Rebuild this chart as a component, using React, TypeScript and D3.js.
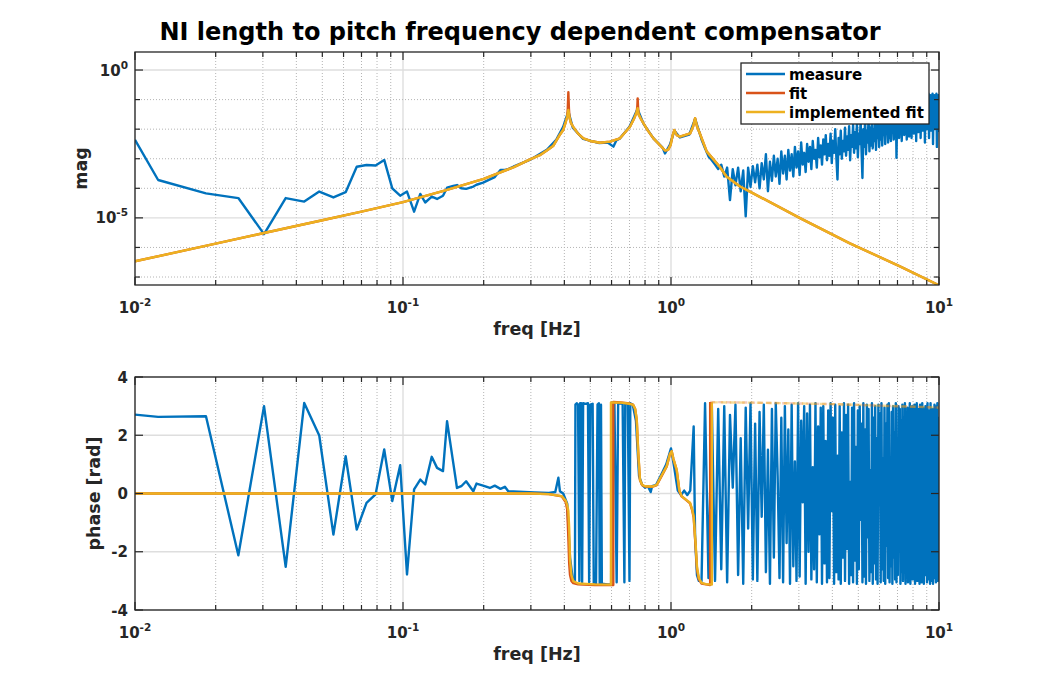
import * as d3 from "d3"

// ---------- data ----------
const freqLimits = [0.01, 10]
const magLimits = [5.37e-8, 4.07]
const phaseLimits = [-4, 4]
const phaseTicks = [-4, -2, 0, 2, 4]
const magTickExps = [-7, -6, -5, -4, -3, -2, -1, 0]
const magLabelExps = [-5, 0]
const freqTickExps = [-2, -1, 0, 1]

// measurement, sparse low-frequency bins (mag stored as log10)
const lowFreq = [0.01, 0.0122, 0.0184, 0.0243, 0.0303, 0.0365, 0.0428, 0.0487, 0.055, 0.0611, 0.0672, 0.0731, 0.079, 0.0851, 0.0912, 0.0976, 0.1035, 0.11, 0.116, 0.121, 0.128, 0.134, 0.141, 0.146, 0.154, 0.159, 0.165, 0.172, 0.183, 0.188, 0.199, 0.211, 0.22, 0.231, 0.24, 0.247]
const lowMag = [-2.36, -3.72, -4.17, -4.33, -5.55, -4.33, -4.45, -4.11, -4.31, -4.13, -3.27, -3.21, -3.23, -3.04, -4.0, -4.25, -4.11, -4.79, -4.19, -4.48, -4.28, -4.36, -4.25, -3.98, -3.92, -3.89, -4.0, -4.02, -3.94, -3.88, -3.81, -3.7, -3.62, -3.38, -3.38, -3.35]
const lowPhase = [2.71, 2.63, 2.65, -2.12, 3.0, -2.52, 3.11, 1.99, -1.41, 1.28, -1.24, -0.32, -0.03, 1.51, -0.26, 0.97, -2.78, 0.14, 0.48, 0.31, 1.26, 0.88, 0.77, 2.48, 1.05, 0.19, 0.25, 0.42, 0.08, 0.34, 0.27, 0.19, 0.27, 0.16, 0.23, 0.08]

// measurement around the resonances
const midMagFreq = [0.258, 0.297, 0.344, 0.373, 0.396, 0.414, 0.43, 0.47, 0.54, 0.58, 0.61, 0.625, 0.645, 0.7, 0.75, 0.79, 0.86, 0.93, 0.95, 0.99, 1.03, 1.08, 1.17, 1.23, 1.28]
const midMag = [-3.27, -3.04, -2.7, -2.36, -1.92, -1.4, -1.95, -2.33, -2.47, -2.45, -2.59, -2.38, -2.31, -1.92, -1.32, -1.82, -2.31, -2.62, -2.82, -2.53, -2.05, -2.28, -2.18, -1.65, -2.14]
const midPhaseFreq = [0.27, 0.31, 0.35, 0.37, 0.38, 0.385, 0.396, 0.41, 0.42, 0.43, 0.438, 0.44, 0.445, 0.45, 0.455, 0.458, 0.462, 0.466, 0.47, 0.48, 0.49, 0.495, 0.5, 0.51, 0.515, 0.525, 0.532, 0.538, 0.542, 0.548, 0.552, 0.58, 0.598, 0.6, 0.615, 0.627, 0.635, 0.66, 0.67, 0.675, 0.69, 0.7, 0.705, 0.72, 0.74, 0.76, 0.78, 0.8, 0.82, 0.84, 0.85, 0.88, 0.92, 0.96, 1.0, 1.03, 1.06, 1.09, 1.12, 1.15, 1.18, 1.215, 1.23, 1.25, 1.27]
const midPhase = [0.06, 0.04, 0.02, 0.05, 0.54, 0.08, 0.0, -0.35, -2.2, -2.95, -3.05, 3.05, 3.1, 3.05, -3.0, 3.1, 3.1, -3.05, 3.1, 3.08, 3.1, -3.05, 3.05, 3.08, -3.1, -3.12, 3.05, 3.1, -3.1, 3.05, -3.1, -3.12, -3.12, 3.12, 3.1, -3.05, 3.1, 3.08, -3.05, 3.1, 3.08, -3.0, 3.1, 3.05, 2.5, 0.6, 0.3, 0.2, 0.25, 0.05, 0.25, 0.3, 0.65, 1.0, 1.55, 0.85, 0.1, -0.05, 0.1, -0.05, 0.1, 2.3, -1.5, -2.8, -3.0]

// measurement, dense bins above 1.3 Hz (evenly spaced in Hz)
const noiseStartHz = 1.3
const noiseStepHz = 0.04
const noiseMag = [
  -2.35, -2.65, -2.92, -3.05, -3.2, -3.35, -3.2, -3.6, -3.3, -4.4,
  -3.35, -3.9, -3.3, -4.1, -3.4, -4.95, -3.3, -3.95, -3.25, -3.8,
  -3.2, -4.0, -3.15, -3.7, -2.85, -4.1, -3.1, -3.75, -2.9, -3.6,
  -3.0, -3.85, -2.75, -3.5, -2.9, -3.7, -2.7, -3.4, -2.85, -3.6,
  -2.6, -3.3, -2.75, -3.55, -2.45, -3.2, -2.8, -3.45, -2.5, -3.1,
  -2.6, -3.35, -2.4, -3.0, -2.7, -3.3, -2.3, -2.95, -2.55, -3.2,
  -2.35, -2.85, -2.2, -3.05, -2.5, -2.9, -2.15, -3.15, -2.4, -2.8,
  -2.0, -2.95, -3.7, -2.3, -2.85, -2.05, -3.0, -2.4, -2.75, -1.95,
  -2.9, -2.25, -2.7, -1.9, -3.05, -2.2, -2.6, -1.85, -2.8, -2.1,
  -2.65, -1.8, -2.95, -2.15, -2.5, -1.7, -2.7, -3.65, -2.0, -2.6,
  -1.65, -2.85, -2.05, -2.45, -1.6, -2.75, -1.95, -2.55, -1.55, -2.65,
  -2.0, -2.4, -1.5, -2.7, -1.85, -2.3, -1.45, -2.6, -1.9, -2.35,
  -1.4, -2.55, -1.75, -2.2, -1.35, -2.5, -1.8, -2.15, -1.3, -2.45,
  -1.7, -2.3, -1.25, -2.4, -1.65, -2.1, -1.2, -2.35, -1.6, -2.2,
  -1.15, -2.97, -1.55, -2.25, -1.1, -2.3, -1.5, -2.0, -1.05, -2.4,
  -1.45, -2.1, -1.0, -2.2, -1.5, -1.95, -1.05, -2.35, -1.4, -2.05,
  -0.95, -2.25, -1.45, -1.9, -1.0, -2.3, -1.35, -2.0, -0.95, -2.15,
  -1.4, -1.85, -0.9, -2.4, -1.3, -2.0, -0.95, -2.1, -1.35, -1.8,
  -0.9, -2.3, -1.3, -1.95, -0.85, -2.05, -1.4, -1.75, -0.9, -2.45,
  -1.25, -1.9, -0.85, -2.0, -1.35, -1.7, -0.8, -2.3, -1.2, -1.85,
  -0.85, -2.05, -1.3, -1.65, -0.8, -2.5, -1.25, -1.8, -0.85, -2.0,
  -1.3, -1.6, -0.8, -2.6, -1.2, -1.75, -0.85, -2.1,
]
const noisePhase = [
  -3.0, 3.1, -2.9, 3.05, -3.0, 2.9, -2.6, 3.0, -3.05, 2.7, 0.2, 3.05, -2.8, 1.9, -3.1, 2.95, -1.2, 3.1, -2.95, 2.4,
  -3.0, 2.8, -0.8, 3.05, -2.7, 1.5, -3.1, 2.9, -2.2, 3.1, 0.6, -2.9, 2.6, -3.05, 3.0, -1.7, 2.2, -3.1, 3.05, -2.5,
  1.1, -3.0, 3.1, -2.85, 2.5, -0.3, 3.0, -3.1, 2.75, -2.0, 3.05, -2.95, 0.9, -2.6, 3.1, -3.05, 2.3, -1.4, 2.95, -3.1,
  3.0, -2.4, 1.8, -3.05, 2.85, -2.9, 3.1, -0.6, 2.6, -3.1, 3.05, -2.7, 1.3, -2.95, 3.0, -3.1, 2.1, -2.2, 3.1, -3.0,
  2.7, -1.9, 3.05, -3.1, 0.4, -2.8, 2.95, -3.05, 3.1, -2.3, 1.6, -3.1, 2.85, -2.6, 3.0, -0.9, 2.4, -3.05, 3.1, -2.85,
  2.2, -3.1, 3.05, -1.5, 2.9, -3.0, 0.8, -2.7, 3.1, -3.1, 2.6, -2.4, 3.0, -2.95, 1.9, -3.1, 3.05, -0.2, 2.75, -3.05,
  3.1, -2.6, 1.2, -3.0, 2.95, -3.1, 2.4, -1.8, 3.05, -2.9, 3.1, -3.05, 0.5, -2.5, 2.8, -3.1, 3.0, -2.2, 2.1, -2.95,
  3.1, -3.05, 1.7, -2.8, 3.0, -1.1, 2.9, -3.1, 2.5, -2.7, 3.05, -3.0, 0.1, -2.4, 3.1, -3.1, 2.7, -1.6, 2.95, -3.05,
  2.3, -2.9, 3.1, -3.1, 1.4, -2.6, 3.0, -2.95, 2.8, -0.7, 3.05, -3.1, 2.2, -2.3, 3.1, -3.0, 1.0, -2.85, 2.9, -3.1,
  3.05, -1.9, 2.6, -3.05, 3.1, -2.5, 0.7, -3.1, 2.95, -2.8, 3.0, -1.3, 2.4, -3.05, 3.1, -2.95, 1.8, -2.2, 2.85, -3.1,
  3.1, -2.7, 1.5, -3.0, 2.9, -3.1, 2.7, -0.5, 3.05, -2.9, 3.0, -3.05, 2.2, -1.7, 3.1, -3.0, 2.6, -2.4,
]

// fitted models (mag stored as log10)
const fitFreq = [0.01, 0.02, 0.03, 0.05, 0.07, 0.1, 0.145, 0.2, 0.258, 0.298, 0.324, 0.344, 0.364, 0.386, 0.396, 0.405, 0.41, 0.412, 0.414, 0.416, 0.418, 0.423, 0.431, 0.45, 0.471, 0.5, 0.543, 0.592, 0.645, 0.703, 0.73, 0.745, 0.749, 0.751, 0.753, 0.757, 0.775, 0.789, 0.82, 0.86, 0.95, 0.975, 0.997, 1.015, 1.029, 1.05, 1.08, 1.18, 1.21, 1.23, 1.25, 1.28, 1.36, 1.52, 1.61, 1.81, 1.97, 3.03, 4.65, 7.15, 10]
const fitMag = [-6.47, -5.87, -5.52, -5.08, -4.79, -4.47, -4.06, -3.68, -3.29, -3.02, -2.88, -2.72, -2.56, -2.17, -2.03, -1.75, -1.58, -1.3, -0.75, -1.3, -1.6, -1.78, -1.92, -2.15, -2.31, -2.4, -2.46, -2.42, -2.31, -1.92, -1.62, -1.42, -1.2, -0.96, -1.2, -1.5, -1.68, -1.8, -2.05, -2.31, -2.72, -2.7, -2.53, -2.2, -2.03, -2.2, -2.25, -2.14, -1.9, -1.63, -1.9, -2.14, -2.76, -3.27, -3.6, -3.94, -4.11, -5.01, -5.86, -6.64, -7.28]
const implMag = [-6.47, -5.87, -5.52, -5.08, -4.79, -4.47, -4.06, -3.68, -3.29, -3.02, -2.88, -2.72, -2.56, -2.17, -2.03, -1.75, -1.58, -1.46, -1.35, -1.47, -1.6, -1.78, -1.92, -2.15, -2.31, -2.4, -2.46, -2.42, -2.31, -1.92, -1.62, -1.42, -1.33, -1.29, -1.36, -1.5, -1.68, -1.8, -2.05, -2.31, -2.72, -2.7, -2.53, -2.2, -2.03, -2.2, -2.25, -2.14, -1.9, -1.63, -1.9, -2.14, -2.76, -3.27, -3.6, -3.94, -4.11, -5.01, -5.86, -6.64, -7.28]

const fitPhaseFreq = [0.01, 0.1, 0.3, 0.35, 0.391, 0.405, 0.41, 0.414, 0.417, 0.42, 0.425, 0.432, 0.45, 0.52, 0.609, 0.609, 0.65, 0.7, 0.723, 0.735, 0.745, 0.755, 0.766, 0.78, 0.8, 0.85, 0.885, 0.92, 0.964, 0.99, 1.006, 1.02, 1.05, 1.075, 1.096, 1.14, 1.178, 1.2, 1.215, 1.235, 1.25, 1.27, 1.3, 1.35, 1.4, 1.4, 2.0, 4.0, 10]
const fitPhase = [0, 0, 0, -0.02, -0.1, -0.3, -0.55, -1.5, -2.4, -2.8, -3.0, -3.08, -3.12, -3.14, -3.14, 3.14, 3.13, 3.09, 3.04, 2.9, 2.52, 1.35, 0.46, 0.29, 0.24, 0.23, 0.29, 0.58, 0.93, 1.34, 1.45, 1.2, 0.8, 0.08, -0.1, -0.23, -0.34, -0.58, -0.82, -1.8, -2.6, -2.95, -3.09, -3.12, -3.14, 3.14, 3.12, 3.07, 2.95]
const implPhaseFreq = [0.01, 0.1, 0.3, 0.35, 0.391, 0.405, 0.41, 0.414, 0.417, 0.42, 0.425, 0.432, 0.45, 0.52, 0.597, 0.597, 0.65, 0.7, 0.723, 0.735, 0.745, 0.755, 0.766, 0.78, 0.8, 0.85, 0.885, 0.92, 0.964, 0.99, 1.006, 1.02, 1.05, 1.075, 1.096, 1.14, 1.178, 1.2, 1.215, 1.235, 1.25, 1.27, 1.3, 1.35, 1.42, 1.42, 2.0, 4.0, 10]
const implPhase = [0, 0, 0, -0.02, -0.09, -0.25, -0.4, -0.6, -1.2, -2.27, -2.8, -3.01, -3.09, -3.12, -3.13, 3.13, 3.12, 3.08, 3.04, 2.9, 2.54, 1.4, 0.48, 0.3, 0.25, 0.24, 0.3, 0.6, 0.94, 1.35, 1.45, 1.2, 0.82, 0.1, -0.09, -0.22, -0.32, -0.55, -0.78, -1.7, -2.5, -2.9, -3.07, -3.11, -3.13, 3.13, 3.12, 3.07, 2.95]

const legendLabels = ["measure", "fit", "implemented fit"]

// ---------- styling ----------
const W = 1039
const H = 687
const FONT = "'DejaVu Sans', sans-serif"
const AX = "#262626"
const BLUE = "#0072BD"
const RED = "#D95319"
const YELLOW = "#EDB120"
const GRID = "#dedede"
const MINOR = "#b4b4b4"
const LW = 2.4
const left = 135
const right = 939
const magBox = { top: 52, bottom: 285 }
const phBox = { top: 377, bottom: 610 }

type Pt = [number, number]
const pairs = (f: number[], v: number[]): Pt[] => f.map((d, i) => [d, v[i]] as Pt)

// split a wrapped phase trace at its last jump so the tail can be drawn faded
function splitAtLastWrap(pts: Pt[]) {
  let k = -1
  for (let i = 1; i < pts.length; i++) if (Math.abs(pts[i][1] - pts[i - 1][1]) > 5) k = i
  return k < 0 ? [pts, []] : [pts.slice(0, k + 1), pts.slice(k)]
}

function Sup({ base, exp, ...rest }: any) {
  return (
    <text {...rest}>
      {base}
      <tspan dy={-7} fontSize={10.5}>{exp}</tspan>
    </text>
  )
}

export default function App() {
  const x = d3.scaleLog().domain(freqLimits).range([left, right])
  const yMag = d3.scaleLog().domain(magLimits).range([magBox.bottom, magBox.top])
  const yPh = d3.scaleLinear().domain(phaseLimits).range([phBox.bottom, phBox.top])

  const noiseFreq = noiseMag.map((_, i) => noiseStartHz + i * noiseStepHz)
  const measMag = [...pairs(lowFreq, lowMag), ...pairs(midMagFreq, midMag), ...pairs(noiseFreq, noiseMag)]
  const measPh = [...pairs(lowFreq, lowPhase), ...pairs(midPhaseFreq, midPhase), ...pairs(noiseFreq, noisePhase)]

  const magLine = d3.line<Pt>().x((d) => x(d[0])).y((d) => yMag(Math.pow(10, d[1])))
  const phLine = d3.line<Pt>().x((d) => x(d[0])).y((d) => yPh(d[1]))

  const [fitPhA, fitPhB] = splitAtLastWrap(pairs(fitPhaseFreq, fitPhase))
  const [implPhA, implPhB] = splitAtLastWrap(pairs(implPhaseFreq, implPhase))

  const majorFreqs = freqTickExps.map((e) => Math.pow(10, e))
  const minorFreqs: number[] = []
  freqTickExps.slice(0, -1).forEach((e) => {
    for (let k = 2; k <= 9; k++) minorFreqs.push(k * Math.pow(10, e))
  })

  const lineStyle = { fill: "none", strokeWidth: LW, strokeLinejoin: "round" as const }

  const xFrame = (top: number, bottom: number) => (
    <g>
      {minorFreqs.map((f) => (
        <line key={"n" + f} x1={x(f)} x2={x(f)} y1={top} y2={bottom} stroke={MINOR} strokeWidth={1} strokeDasharray="1 2" />
      ))}
      {majorFreqs.map((f) => (
        <line key={"g" + f} x1={x(f)} x2={x(f)} y1={top} y2={bottom} stroke={GRID} strokeWidth={1.4} />
      ))}
    </g>
  )

  const xTicks = (top: number, bottom: number) => (
    <g stroke={AX} strokeWidth={1.2}>
      {minorFreqs.map((f) => (
        <g key={"t" + f}>
          <line x1={x(f)} x2={x(f)} y1={top} y2={top + 5} />
          <line x1={x(f)} x2={x(f)} y1={bottom} y2={bottom - 5} />
        </g>
      ))}
      {majorFreqs.map((f) => (
        <g key={"T" + f}>
          <line x1={x(f)} x2={x(f)} y1={top} y2={top + 8} />
          <line x1={x(f)} x2={x(f)} y1={bottom} y2={bottom - 8} />
        </g>
      ))}
    </g>
  )

  const xLabels = (bottom: number) => (
    <g fontFamily={FONT} fontWeight="bold" fill={AX}>
      {freqTickExps.map((e) => (
        <Sup key={e} base="10" exp={String(e)} x={x(Math.pow(10, e))} y={bottom + 28} fontSize={15} textAnchor="middle" />
      ))}
      <text x={(left + right) / 2} y={bottom + 50} fontSize={17.5} textAnchor="middle">freq [Hz]</text>
    </g>
  )

  return (
    <svg width={W} height={H} style={{ position: "absolute", left: 0, top: 0, background: "#fff" }}>
      <defs>
        <clipPath id="clipMag">
          <rect x={left} y={magBox.top} width={right - left} height={magBox.bottom - magBox.top} />
        </clipPath>
        <clipPath id="clipPh">
          <rect x={left} y={phBox.top} width={right - left} height={phBox.bottom - phBox.top} />
        </clipPath>
      </defs>
      <rect width={W} height={H} fill="#fff" />

      <text x={520} y={39.5} fontFamily={FONT} fontWeight="bold" fontSize={24} textAnchor="middle" fill="#000">
        NI length to pitch frequency dependent compensator
      </text>

      {/* ---------- magnitude panel ---------- */}
      {xFrame(magBox.top, magBox.bottom)}
      {magTickExps.map((e) => {
        const yy = yMag(Math.pow(10, e))
        return magLabelExps.includes(e) ? (
          <line key={"my" + e} x1={left} x2={right} y1={yy} y2={yy} stroke={GRID} strokeWidth={1.4} />
        ) : (
          <line key={"my" + e} x1={left} x2={right} y1={yy} y2={yy} stroke={MINOR} strokeWidth={1} strokeDasharray="1 2" />
        )
      })}
      <g clipPath="url(#clipMag)">
        <path d={magLine(measMag) || ""} stroke={BLUE} {...lineStyle} />
        <path d={magLine(pairs(fitFreq, fitMag)) || ""} stroke={RED} {...lineStyle} />
        <path d={magLine(pairs(fitFreq, implMag)) || ""} stroke={YELLOW} {...lineStyle} />
      </g>
      <rect x={left} y={magBox.top} width={right - left} height={magBox.bottom - magBox.top} fill="none" stroke={AX} strokeWidth={1.3} />
      {xTicks(magBox.top, magBox.bottom)}
      <g stroke={AX} strokeWidth={1.2}>
        {magTickExps.map((e) => {
          const yy = yMag(Math.pow(10, e))
          const len = magLabelExps.includes(e) ? 8 : 5
          return (
            <g key={"mt" + e}>
              <line x1={left} x2={left + len} y1={yy} y2={yy} />
              <line x1={right} x2={right - len} y1={yy} y2={yy} />
            </g>
          )
        })}
      </g>
      <g fontFamily={FONT} fontWeight="bold" fill={AX}>
        {magLabelExps.map((e) => (
          <Sup key={e} base="10" exp={String(e)} x={128} y={yMag(Math.pow(10, e)) + 5.5} fontSize={15} textAnchor="end" />
        ))}
        <text transform={`translate(87,${(magBox.top + magBox.bottom) / 2}) rotate(-90)`} fontSize={17.5} textAnchor="middle">mag</text>
      </g>
      {xLabels(magBox.bottom)}

      {/* legend */}
      <g fontFamily={FONT} fontWeight="bold" fontSize={15}>
        <rect x={741} y={63} width={188} height={61} fill="#fff" stroke={AX} strokeWidth={1.3} />
        {legendLabels.map((lab, i) => (
          <g key={lab}>
            <line x1={746} x2={785} y1={74 + i * 19} y2={74 + i * 19} stroke={[BLUE, RED, YELLOW][i]} strokeWidth={LW} />
            <text x={789} y={74 + i * 19 + 5.5} fill="#000">{lab}</text>
          </g>
        ))}
      </g>

      {/* ---------- phase panel ---------- */}
      {xFrame(phBox.top, phBox.bottom)}
      {phaseTicks.map((t) => (
        <line key={"py" + t} x1={left} x2={right} y1={yPh(t)} y2={yPh(t)} stroke={GRID} strokeWidth={1.4} />
      ))}
      <g clipPath="url(#clipPh)">
        <path d={phLine(measPh) || ""} stroke={BLUE} {...lineStyle} />
        <path d={phLine(fitPhA) || ""} stroke={RED} {...lineStyle} />
        <path d={phLine(implPhA) || ""} stroke={YELLOW} {...lineStyle} />
        <path d={phLine(fitPhB) || ""} stroke={RED} {...lineStyle} strokeOpacity={0.3} strokeDasharray="5 3" />
        <path d={phLine(implPhB) || ""} stroke={YELLOW} {...lineStyle} strokeOpacity={0.45} strokeDasharray="6 3" />
      </g>
      <rect x={left} y={phBox.top} width={right - left} height={phBox.bottom - phBox.top} fill="none" stroke={AX} strokeWidth={1.3} />
      {xTicks(phBox.top, phBox.bottom)}
      <g stroke={AX} strokeWidth={1.2}>
        {phaseTicks.map((t) => (
          <g key={"pt" + t}>
            <line x1={left} x2={left + 8} y1={yPh(t)} y2={yPh(t)} />
            <line x1={right} x2={right - 8} y1={yPh(t)} y2={yPh(t)} />
          </g>
        ))}
      </g>
      <g fontFamily={FONT} fontWeight="bold" fill={AX}>
        {phaseTicks.map((t) => (
          <text key={t} x={128} y={yPh(t) + 5.5} fontSize={15} textAnchor="end">{t}</text>
        ))}
        <text transform={`translate(100,${(phBox.top + phBox.bottom) / 2}) rotate(-90)`} fontSize={17.5} textAnchor="middle">phase [rad]</text>
      </g>
      {xLabels(phBox.bottom)}
    </svg>
  )
}
